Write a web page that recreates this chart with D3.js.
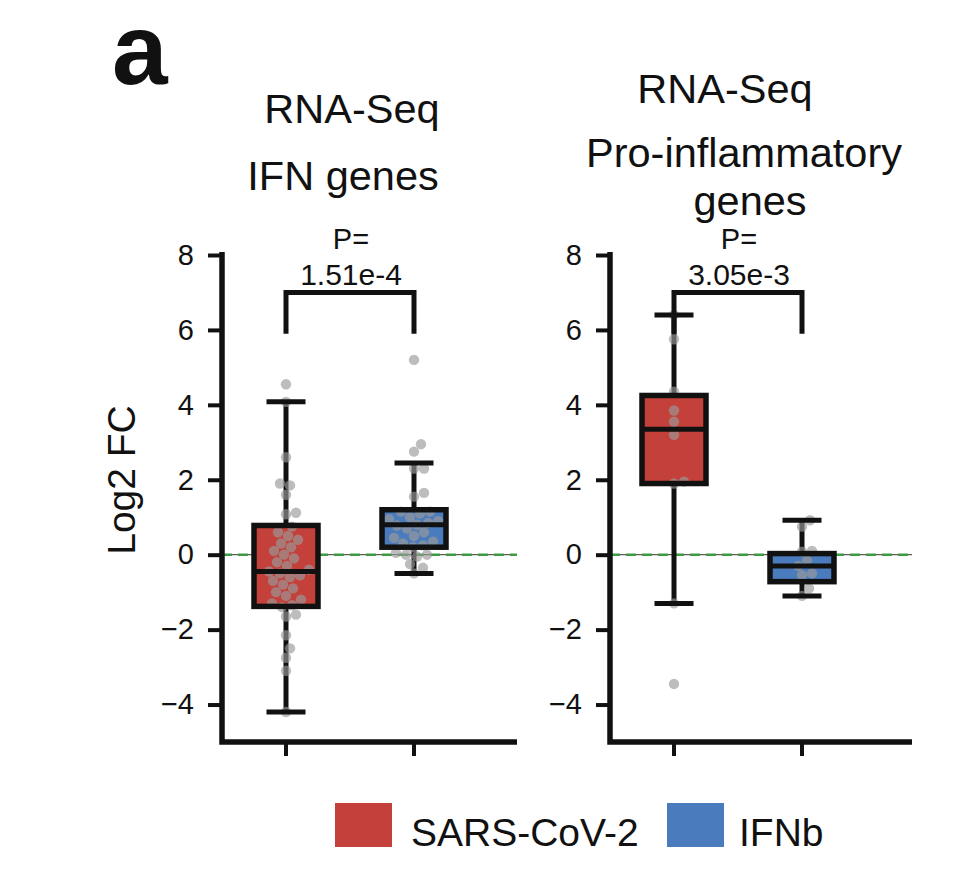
<!DOCTYPE html>
<html>
<head>
<meta charset="utf-8">
<script src="https://cdn.jsdelivr.net/npm/d3@7"></script>
<style>
  html, body { margin: 0; padding: 0; background: #fff; }
  svg { display: block; font-family: "Liberation Sans", Arial, sans-serif; }
</style>
</head>
<body>
<svg id="chart" width="960" height="871"></svg>
<script>
// ---------------- data ----------------
const categories = ["SARS-CoV-2", "IFNb"];
const panelTitles = [["RNA-Seq", "IFN genes"], ["RNA-Seq", "Pro-inflammatory", "genes"]];
const yTicks = [-4, -2, 0, 2, 4, 6, 8];
const pValues = ["1.51e-4", "3.05e-3"];
const yLabel = "Log2 FC";
const panelLetter = "a";

// box stats: [whiskerLow, q1, median, q3, whiskerHigh]
const ifnSarsBox = [-4.2, -1.38, -0.45, 0.78, 4.08];
const ifnIfnbBox = [-0.5, 0.2, 0.8, 1.2, 2.45];
const proSarsBox = [-1.3, 1.9, 3.35, 4.25, 6.4];
const proIfnbBox = [-1.1, -0.72, -0.3, 0.03, 0.92];

// individual genes (Log2 FC)
const ifnSarsPts = [4.55, 4.08, 2.6, 1.9, 1.85, 1.6, 1.12, 1.08, 0.75, 0.6, 0.5, 0.4, 0.3, 0.2, 0.1, 0.0,
  -0.1, -0.2, -0.3, -0.4, -0.45, -0.5, -0.55, -0.6, -0.7, -0.8, -0.9, -1.0, -1.1, -1.2, -1.3, -1.35, -1.4,
  -1.6, -1.65, -2.15, -2.5, -2.75, -3.1, -4.2];
const ifnIfnbPts = [5.2, 2.95, 2.75, 2.3, 2.3, 1.65, 1.55, 1.15, 1.15, 1.1, 1.0, 0.95, 0.9, 0.85, 0.8, 0.78,
  0.7, 0.6, 0.5, 0.45, 0.35, 0.3, 0.25, 0.2, 0.05, 0.0, 0.0, -0.05, -0.25, -0.35, -0.5];
const proSarsPts = [6.4, 5.75, 4.35, 3.85, 3.55, 3.2, 1.95, 1.9, -1.3, -3.45];
const proIfnbPts = [0.92, 0.75, 0.1, 0.08, -0.15, -0.3, -0.5, -0.55, -0.9, -1.1];

const colors = ["#c4403a", "#4a7bbd"];

// p-value bracket heights (data units)
const bracketTop = 7.0, bracketLeg = 5.9;

// ---------------- drawing ----------------
const svg = d3.select("#chart");
const FONT = '"Liberation Sans", Arial, sans-serif';

function stext(parent, x, y, str, size, anchor, extra) {
  return parent.append("text")
    .attr("transform", `translate(${x},${y}) ${extra || ""}`)
    .attr("text-anchor", anchor || "middle")
    .attr("font-size", size)
    .attr("fill", "#111")
    .text(str);
}

const y = d3.scaleLinear().domain([-5, 8]).range([742, 255]);

const panels = [
  { x0: 222, xEnd: 517, boxes: [ifnSarsBox, ifnIfnbBox], pts: [ifnSarsPts, ifnIfnbPts], p: pValues[0],
    titles: panelTitles[0], titleX: [352, 343], titleY: [123, 190] },
  { x0: 610, xEnd: 912, boxes: [proSarsBox, proIfnbBox], pts: [proSarsPts, proIfnbPts], p: pValues[1],
    titles: panelTitles[1], titleX: [725, 744, 750], titleY: [103, 167, 215] }
];

// swarm layout (deterministic)
function swarm(values, cx, r) {
  const placed = [];
  const sorted = values.map((v, i) => ({ v, i })).sort((a, b) => a.v - b.v);
  sorted.forEach(d => {
    const py = y(d.v);
    let off = 0;
    for (let k = 0; k < 80; k++) {
      const cand = k === 0 ? 0 : (k % 2 ? 1 : -1) * Math.ceil(k / 2);
      const ok = placed.every(p => Math.hypot(p.x - (cx + cand), p.y - py) >= 2 * r * 0.95);
      if (ok) { off = cand; break; }
    }
    placed.push({ x: cx + off, y: py });
  });
  return placed;
}

panels.forEach(P => {
  const g = svg.append("g");
  const x = d3.scaleBand().domain(categories).range([P.x0, P.x0 + 256]).paddingInner(0).paddingOuter(0);
  const cx = c => x(c) + x.bandwidth() / 2;
  const boxW = 64, capW = 39;

  // reference line at 0
  g.append("line").attr("x1", P.x0).attr("x2", P.xEnd).attr("y1", y(0)).attr("y2", y(0))
    .attr("stroke", "#333").attr("stroke-width", 1);
  g.append("line").attr("x1", P.x0).attr("x2", P.xEnd).attr("y1", y(0)).attr("y2", y(0))
    .attr("stroke", "#3f9a45").attr("stroke-width", 2.5).attr("stroke-dasharray", "10,6");

  categories.forEach((c, i) => {
    const s = P.boxes[i];
    const xc = cx(c);
    g.append("line").attr("x1", xc).attr("x2", xc).attr("y1", y(s[4])).attr("y2", y(s[3]))
      .attr("stroke", "#111").attr("stroke-width", 5);
    g.append("line").attr("x1", xc).attr("x2", xc).attr("y1", y(s[1])).attr("y2", y(s[0]))
      .attr("stroke", "#111").attr("stroke-width", 5);
    g.append("rect").attr("x", xc - boxW / 2).attr("width", boxW)
      .attr("y", y(s[3])).attr("height", y(s[1]) - y(s[3]))
      .attr("fill", colors[i]);
    swarm(P.pts[i], xc, 5.2).forEach(p => {
      g.append("circle").attr("cx", p.x).attr("cy", p.y).attr("r", 5.2)
        .attr("fill", "#9a9a9a").attr("fill-opacity", 0.65);
    });
    g.append("rect").attr("x", xc - boxW / 2).attr("width", boxW)
      .attr("y", y(s[3])).attr("height", y(s[1]) - y(s[3]))
      .attr("fill", "none").attr("stroke", "#111").attr("stroke-width", 5.5);
    [s[0], s[4]].forEach(v => {
      g.append("line").attr("x1", xc - capW / 2).attr("x2", xc + capW / 2).attr("y1", y(v)).attr("y2", y(v))
        .attr("stroke", "#111").attr("stroke-width", 5);
    });
    g.append("line").attr("x1", xc - boxW / 2 - 2).attr("x2", xc + boxW / 2 + 2).attr("y1", y(s[2])).attr("y2", y(s[2]))
      .attr("stroke", "#111").attr("stroke-width", 5);
  });

  // y axis
  const yAxis = d3.axisLeft(y).tickValues(yTicks).tickSize(14).tickPadding(14)
    .tickFormat(d => d < 0 ? "\u2212" + Math.abs(d) : String(d));
  const ya = g.append("g").attr("transform", `translate(${P.x0},0)`).call(yAxis);
  ya.select(".domain").remove();
  ya.selectAll(".tick line").attr("stroke", "#111").attr("stroke-width", 4);
  ya.selectAll(".tick text").attr("font-size", 29).attr("font-family", FONT).attr("fill", "#111");

  // x axis
  const xAxis = d3.axisBottom(x).tickSize(14).tickFormat("");
  const xa = g.append("g").attr("transform", `translate(0,${y(-5)})`).call(xAxis);
  xa.select(".domain").remove();
  xa.selectAll(".tick line").attr("stroke", "#111").attr("stroke-width", 4);

  g.append("path")
    .attr("d", `M${P.x0},${y(8) - 3}L${P.x0},${y(-5)}L${P.xEnd},${y(-5)}`)
    .attr("fill", "none").attr("stroke", "#111").attr("stroke-width", 5.5).attr("stroke-linejoin", "miter");

  // bracket
  const xa0 = cx(categories[0]), xa1 = cx(categories[1]);
  g.append("path")
    .attr("d", `M${xa0},${y(bracketLeg)}L${xa0},${y(bracketTop)}L${xa1},${y(bracketTop)}L${xa1},${y(bracketLeg)}`)
    .attr("fill", "none").attr("stroke", "#111").attr("stroke-width", 5);
  const pcx = (xa0 + xa1) / 2 + 1;
  stext(g, pcx, 249, "P=", 29);
  stext(g, pcx, 285, P.p, 30);

  // titles
  P.titles.forEach((t, i) => stext(g, P.titleX[i], P.titleY[i], t, 41.5));
});

// y label
stext(svg, 135, 480, yLabel, 39, "middle", "rotate(-90)");

// panel letter
svg.append("text").attr("x", 112).attr("y", 84)
  .attr("font-size", 100).attr("font-weight", "bold").attr("fill", "#111").text(panelLetter);

// legend
const legend = svg.append("g");
const legX = [335, 667], legTX = [411, 739];
categories.forEach((c, i) => {
  legend.append("rect").attr("x", legX[i]).attr("y", 803).attr("width", 57).attr("height", 44).attr("fill", colors[i]);
  stext(legend, legTX[i], 846, c, 39, "start");
});
</script>
</body>
</html>
